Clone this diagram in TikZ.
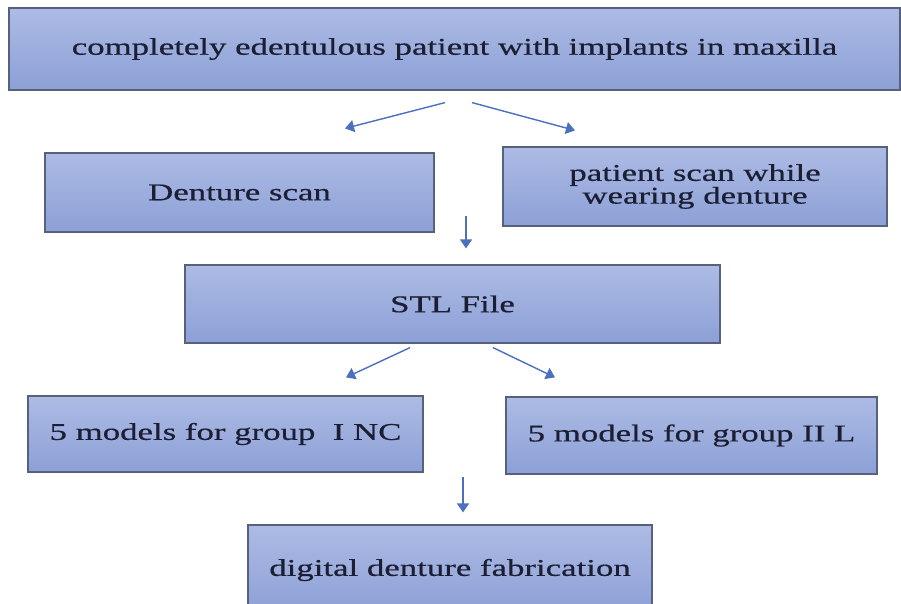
\documentclass[tikz,border=0pt]{standalone}
\usepackage{fontspec}
\setmainfont{Liberation Serif}[FakeStretch=1.45,FakeBold=0.6]
\usetikzlibrary{arrows.meta}
\definecolor{boxtop}{HTML}{ADBBE4}
\definecolor{boxbot}{HTML}{8CA0D7}
\definecolor{boxline}{HTML}{56617E}
\definecolor{arrowblue}{HTML}{4A70BE}
\definecolor{textnavy}{HTML}{1C1F33}
\begin{document}
\begin{tikzpicture}[x=1pt,y=-1pt,
  stepbox/.style={draw=boxline, line width=1.2pt, top color=boxtop, bottom color=boxbot,
    align=center, inner sep=0pt, text=textnavy, font=\fontsize{24}{21}\selectfont},
  arr/.style={arrowblue, line width=1.4pt, -{Triangle[length=9pt,width=12pt]}}]
\useasboundingbox (0,0) rectangle (901,603);
\fill[white] (0,0) rectangle (901,603);
% boxes
\node[stepbox, minimum width=891pt, minimum height=82pt] (top) at (454.5,49) {completely edentulous patient with implants in maxilla};
\node[stepbox, minimum width=389pt, minimum height=79pt] (dscan) at (239.5,192.5) {Denture scan};
\node[stepbox, minimum width=384pt, minimum height=79pt] (pscan) at (695,186.5) {patient scan while\\wearing denture};
\node[stepbox, minimum width=535pt, minimum height=78pt] (stl) at (452.5,304) {STL File};
\node[stepbox, minimum width=395pt, minimum height=76pt] (gone) at (225.5,434) {5 models for group~ I NC};
\node[stepbox, minimum width=371pt, minimum height=77pt] (gtwo) at (691.5,435.5) {5 models for group II L};
\node[stepbox, minimum width=404pt, minimum height=90pt] (dig) at (450,570) {digital denture fabrication};
% arrows
\draw[arr] ([xshift=-9.5pt,yshift=-12pt]top.south) -- ([xshift=105.5pt,yshift=24pt]dscan.north);
\draw[arr] ([xshift=17.5pt,yshift=-12pt]top.south) -- ([xshift=-120pt,yshift=16pt]pscan.north);
\draw[arr] ([xshift=13.5pt,yshift=48pt]stl.north) -- ([xshift=13.5pt,yshift=16pt]stl.north);
\draw[arr] ([xshift=-42.5pt,yshift=-4pt]stl.south) -- ([xshift=120.5pt,yshift=18pt]gone.north);
\draw[arr] ([xshift=40.5pt,yshift=-4pt]stl.south) -- ([xshift=-136.5pt,yshift=19pt]gtwo.north);
\draw[arr] ([xshift=13pt,yshift=47pt]dig.north) -- ([xshift=13pt,yshift=12pt]dig.north);
\end{tikzpicture}
\end{document}
